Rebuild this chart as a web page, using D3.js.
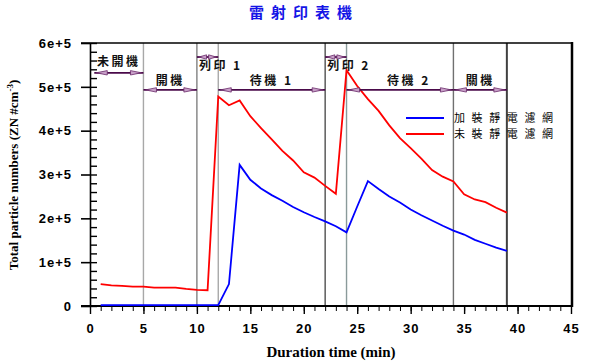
<!DOCTYPE html>
<html>
<head>
<meta charset="utf-8">
<script src="https://cdn.jsdelivr.net/npm/d3@7/dist/d3.min.js"></script>
<style>
  body { margin: 0; background: #fff; }
  svg { display: block; }
  .tick text { font-family: "Liberation Sans", Arial, sans-serif; font-weight: bold; font-size: 13px; letter-spacing: 1px; fill: #000; }
  .cjk { font-family: "Noto Sans CJK TC", "Noto Sans CJK SC", sans-serif; }
</style>
</head>
<body>
<svg id="chart" width="600" height="363"></svg>
<script>
// minutes sampled
var minutes = d3.range(1, 40);
// 加裝靜電濾網 (blue), particles per cm3
var withFilter = [
  2000, 2000, 2000, 2000, 2000, 2000, 2000, 2000, 2000, 2000, 2000, 2000,
  50000, 322000, 288000, 268000, 253000, 240000, 226000, 214000, 203000, 193000, 182000, 168000,
  227000, 285000, 267000, 250000, 236000, 220000, 207000, 195000, 183000, 172000, 163000, 151000,
  142000, 133000, 126000
];
// 未裝靜電濾網 (red)
var withoutFilter = [
  50000, 47000, 46000, 44000, 44000, 42000, 42000, 42000, 39000, 37000, 36000,
  478000, 458000, 469000, 433000, 406000, 380000, 354000, 332000, 305000, 293000, 274000, 256000,
  538000, 502000, 472000, 445000, 412000, 383000, 360000, 336000, 310000, 295000, 284000,
  255000, 243000, 237000, 224000, 213000
];
var seriesNames = ["加裝靜電濾網", "未裝靜電濾網"];

// phase boundaries (min)
var boundaries = [5, 10, 12, 22, 24, 34, 39];
// phase annotations: label, start, end, level
var phaseNames  = ["未開機", "開機", "列印 1", "待機 1", "列印 2", "待機 2", "關機"];
var phaseStart  = [0.4, 5, 10, 12, 22, 24, 34];
var phaseEnd    = [5, 10, 12, 22, 24, 34, 39];
var phaseLevel  = [532000, 493000, 568000, 493000, 568000, 493000, 493000];

var xTicks = d3.range(0, 46, 5);
var yTicks = d3.range(0, 600001, 100000);

var svg = d3.select("#chart");
var x = d3.scaleLinear().domain([0, 45]).range([90, 571]);
var y = d3.scaleLinear().domain([0, 600000]).range([306, 43]);

// title
svg.append("text").attr("class", "cjk")
  .attr("x", 304).attr("y", 18).attr("text-anchor", "middle")
  .style("font-size", "15px").style("font-weight", "bold").style("letter-spacing", "7px")
  .attr("fill", "#1414e6").text("雷射印表機");

// phase boundary lines
var bColors = ["#a8a8a8", "#808080", "#a8a8a8", "#505050", "#8a9a9a", "#707070", "#404040"];
svg.append("g").selectAll("line").data(boundaries).join("line")
  .attr("x1", d => x(d)).attr("x2", d => x(d))
  .attr("y1", y(600000)).attr("y2", y(0))
  .attr("stroke", (d, i) => bColors[i])
  .attr("stroke-width", (d, i) => i === 6 ? 2 : 1.4);

// frame top + right
svg.append("line").attr("x1", 81).attr("x2", 572).attr("y1", 43).attr("y2", 43)
  .attr("stroke", "#000").attr("stroke-width", 1.6);
svg.append("line").attr("x1", 572).attr("x2", 572).attr("y1", 42).attr("y2", 307)
  .attr("stroke", "#000").attr("stroke-width", 2.5);

// axes
var xAxis = svg.append("g").attr("transform", "translate(0,306)")
  .call(d3.axisBottom(x).tickValues(xTicks).tickSize(8).tickPadding(10).tickSizeOuter(0));
svg.append("g").attr("transform", "translate(0,306)")
  .call(d3.axisBottom(x).tickValues(d3.range(0, 46, 1)).tickSize(5).tickFormat("").tickSizeOuter(0))
  .call(g => g.select(".domain").remove());
xAxis.select(".domain").attr("stroke-width", 2.2);
xAxis.select(".domain").attr("d", "M81,0H572");

var yAxis = svg.append("g").attr("transform", "translate(90,0)")
  .call(d3.axisLeft(y).tickValues(yTicks).tickSize(9).tickPadding(9).tickSizeOuter(0)
    .tickFormat(d => d === 0 ? "0" : (d / 100000) + "e+5"));
yAxis.select(".domain").attr("stroke-width", 1.6);
yAxis.selectAll(".tick line").attr("stroke-width", 1.6);
svg.append("g").attr("transform", "translate(90,0)")
  .call(d3.axisRight(y).tickValues(d3.range(0, 600001, 20000)).tickSize(7).tickFormat("").tickSizeOuter(0))
  .call(g => g.select(".domain").remove())
  .call(g => g.selectAll(".tick line").attr("stroke-width", 1.4));
xAxis.selectAll(".tick line").attr("stroke-width", 1.4);

// data lines
var line = d3.line().x((d, i) => x(minutes[i])).y(d => y(d));
svg.append("path").datum(withFilter).attr("d", line)
  .attr("fill", "none").attr("stroke", "#0000ff").attr("stroke-width", 1.8);
svg.append("path").datum(withoutFilter).attr("d", line)
  .attr("fill", "none").attr("stroke", "#ff0000").attr("stroke-width", 1.8);

// phase annotations
var phases = phaseNames.map((n, i) => ({ name: n, s: phaseStart[i], e: phaseEnd[i], v: phaseLevel[i] }));
var gP = svg.append("g");
gP.selectAll("line").data(phases).join("line")
  .attr("x1", d => x(d.s)).attr("x2", d => x(d.e))
  .attr("y1", d => y(d.v)).attr("y2", d => y(d.v))
  .attr("stroke", "#4a0a4a").attr("stroke-width", 1.8);
function head(px, py, dir, len) {
  var t = px + dir * 2, b = px + dir * (2 + len);
  return "M" + t + "," + py + "L" + b + "," + (py - 2.2) + "L" + b + "," + (py + 2.2) + "Z";
}
phases.forEach(function (d) {
  var len = Math.min(11, (x(d.e) - x(d.s)) / 2 - 3);
  [[x(d.s), 1], [x(d.e), -1]].forEach(function (p) {
    gP.append("path").attr("d", head(p[0], y(d.v), p[1], len))
      .attr("fill", "#c8a0c8").attr("stroke", "#6a2a6a").attr("stroke-width", 0.8);
  });
});
gP.selectAll("text").data(phases).join("text").attr("class", "cjk")
  .attr("x", d => d.name.indexOf("列印") === 0 ? x(d.s) + 2 : x((d.s + d.e) / 2) + (d.name === "待機 2" ? 9 : 0))
  .attr("y", d => d.name.indexOf("列印") === 0 ? y(d.v) + 13 : y(d.v) - (d.name === "未開機" ? 7 : 5))
  .attr("text-anchor", d => d.name.indexOf("列印") === 0 ? "start" : "middle")
  .style("font-size", "12px").style("font-weight", "bold").style("letter-spacing", "2.5px")
  .attr("fill", "#111").text(d => d.name);

// legend
var colors = ["#0000ff", "#ff0000"];
var lg = svg.append("g").selectAll("g").data(seriesNames).join("g")
  .attr("transform", (d, i) => "translate(406," + (118 + i * 16) + ")");
lg.append("line").attr("x1", 0).attr("x2", 38).attr("stroke", (d, i) => colors[i]).attr("stroke-width", 1.8);
lg.append("text").attr("class", "cjk").attr("x", 48).attr("y", 4)
  .style("font-size", "11px").style("letter-spacing", "6.6px").attr("fill", "#000").text(d => d);

// axis titles
svg.append("text").attr("x", 331).attr("y", 357).attr("text-anchor", "middle")
  .style("font-family", "'Liberation Serif', serif").style("font-weight", "bold").style("font-size", "15px")
  .text("Duration time (min)");
var yl = svg.append("text").attr("transform", "translate(18,175) rotate(-90)").attr("text-anchor", "middle")
  .style("font-family", "'Liberation Serif', serif").style("font-weight", "bold").style("font-size", "13px");
yl.append("tspan").text("Total particle numbers (ZN #cm");
yl.append("tspan").attr("dy", -5).style("font-size", "9px").text("-3");
yl.append("tspan").attr("dy", 5).text(")");
</script>
</body>
</html>
